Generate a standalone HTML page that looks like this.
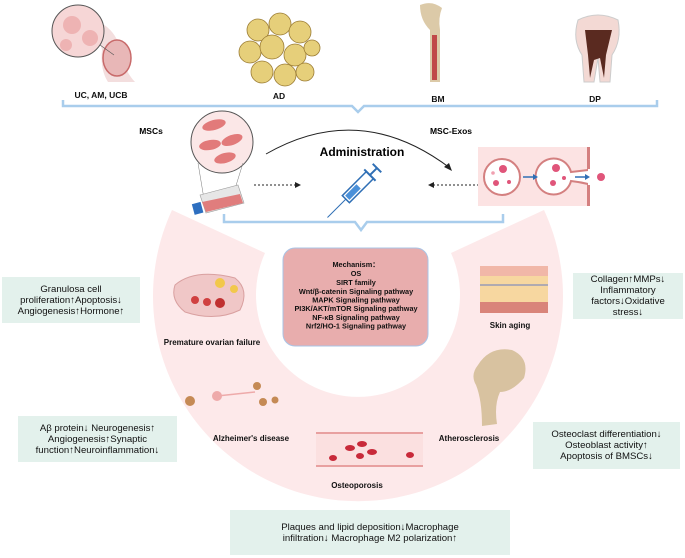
<!DOCTYPE html>
<html><head><meta charset="utf-8"><style>
html,body{margin:0;padding:0;background:#fff;}
body{width:685px;height:558px;position:relative;overflow:hidden;font-family:"Liberation Sans",sans-serif;}
.g{position:absolute;background:#e3f1ec;color:#111;font-size:9.6px;line-height:11px;text-align:center;display:flex;align-items:center;justify-content:center;}
</style></head><body>
<svg width="685" height="558" style="position:absolute;left:0;top:0" font-family="Liberation Sans, sans-serif">
<path d="M544,210 A205,205 0 1 1 172,210 L265,253 A102,102 0 1 0 451,253 Z" fill="#fde9ea"/>
<path d="M63,100 L63,106 L352,106 L358,112 L364,106 L657,106 L657,100" fill="none" stroke="#a9cdec" stroke-width="2.5"/>
<path d="M224,214 L224,222 L355,222 L361,230 L367,222 L503,222 L503,214" fill="none" stroke="#a9cdec" stroke-width="2.5"/>
<path d="M95,20 Q120,30 122,60 Q128,75 135,82 L108,82 Q100,70 102,50 Z" fill="#f3dede"/>
<ellipse cx="117" cy="58" rx="14" ry="18" fill="#e8b7b7" stroke="#c86a6a" stroke-width="1.5"/>
<circle cx="78" cy="31" r="26" fill="#f6d6d6" stroke="#555" stroke-width="1"/>
<circle cx="72" cy="25" r="9" fill="#eeb3b3"/><circle cx="90" cy="38" r="8" fill="#eeb3b3"/><circle cx="66" cy="45" r="6" fill="#eeb3b3"/>
<line x1="100" y1="45" x2="114" y2="55" stroke="#555" stroke-width="0.6"/>
<g fill="#e6cf7a" stroke="#9c7d35" stroke-width="0.8">
<circle cx="258" cy="30" r="11"/><circle cx="280" cy="24" r="11"/><circle cx="300" cy="32" r="11"/><circle cx="250" cy="52" r="11"/>
<circle cx="272" cy="47" r="12"/><circle cx="295" cy="55" r="11"/><circle cx="312" cy="48" r="8"/><circle cx="262" cy="72" r="11"/>
<circle cx="285" cy="75" r="11"/><circle cx="305" cy="72" r="9"/></g>
<path d="M420,5 Q432,0 442,8 Q438,18 440,30 L440,82 L430,82 L430,30 Q420,20 420,5 Z" fill="#dccaa8"/>
<rect x="432" y="35" width="5" height="45" fill="#c04848"/>
<path d="M578,20 Q598,10 618,20 Q622,40 612,55 L610,82 L600,82 L598,58 L594,82 L584,82 L582,55 Q572,40 578,20 Z" fill="#f3d9d4" stroke="#ccc" stroke-width="1"/>
<path d="M585,30 L612,30 L606,55 L604,78 L600,58 L594,60 L590,78 L588,55 Z" fill="#5a2a20"/>
<g font-size="8.5" font-weight="bold" fill="#111" text-anchor="middle">
<text x="101" y="98">UC, AM, UCB</text><text x="279" y="99">AD</text><text x="438" y="102">BM</text><text x="595" y="102">DP</text>
</g>
<text x="151" y="134" font-size="8.5" font-weight="bold" text-anchor="middle">MSCs</text>
<text x="451" y="134" font-size="8.5" font-weight="bold" text-anchor="middle">MSC-Exos</text>
<text x="362" y="156" font-size="12" font-weight="bold" text-anchor="middle">Administration</text>
<circle cx="222" cy="142" r="31" fill="#fbe7e7" stroke="#555" stroke-width="1"/>
<g fill="#e27a7a"><ellipse cx="214" cy="125" rx="12" ry="5" transform="rotate(-15 214 125)"/><ellipse cx="232" cy="140" rx="11" ry="5" transform="rotate(-20 232 140)"/><ellipse cx="210" cy="145" rx="11" ry="5" transform="rotate(-10 210 145)"/><ellipse cx="225" cy="158" rx="11" ry="5" transform="rotate(-15 225 158)"/></g>
<line x1="198" y1="163" x2="205" y2="205" stroke="#777" stroke-width="0.5"/><line x1="243" y1="163" x2="230" y2="205" stroke="#777" stroke-width="0.5"/>
<path d="M200,195 L238,185 L244,203 L206,213 Z" fill="#e6e6e6" stroke="#999" stroke-width="0.6"/>
<path d="M202,202 L240,194 L243,203 L206,212 Z" fill="#e07d7d"/>
<rect x="193" y="203" width="9" height="11" fill="#2d6fc0" transform="rotate(-15 197 208)"/>
<path d="M266,154 Q360,100 450,168" fill="none" stroke="#222" stroke-width="1"/>
<path d="M452,171 L444,167 L449,163 Z" fill="#222"/>
<line x1="254" y1="185" x2="297" y2="185" stroke="#222" stroke-width="1" stroke-dasharray="2,2"/>
<path d="M301,185 L295,182 L295,188 Z" fill="#222"/>
<line x1="479" y1="185" x2="432" y2="185" stroke="#222" stroke-width="1" stroke-dasharray="2,2"/>
<path d="M428,185 L434,182 L434,188 Z" fill="#222"/>
<g transform="rotate(-45 360 185)">
<rect x="340" y="180" width="34" height="10" fill="#fff" stroke="#2f6fb5" stroke-width="1.5"/>
<rect x="342" y="182" width="16" height="6" fill="#4a90d9"/>
<line x1="374" y1="177" x2="374" y2="193" stroke="#2f6fb5" stroke-width="2"/>
<line x1="374" y1="185" x2="384" y2="185" stroke="#2f6fb5" stroke-width="2"/>
<line x1="384" y1="179" x2="384" y2="191" stroke="#2f6fb5" stroke-width="2"/>
<line x1="340" y1="185" x2="314" y2="185" stroke="#2f6fb5" stroke-width="1"/>
</g>
<rect x="478" y="147" width="112" height="59" fill="#fce3e3"/>
<circle cx="502" cy="177" r="18" fill="#fff" stroke="#d48080" stroke-width="2"/>
<circle cx="503" cy="169" r="4" fill="#e0557a"/><circle cx="496" cy="183" r="3" fill="#e0557a"/><circle cx="509" cy="182" r="2" fill="#e0557a"/><circle cx="493" cy="173" r="1.8" fill="#f0a0b0"/>
<path d="M588,147 L588,170 Q580,171 571,172 A18,18 0 1 0 571,181 Q580,182 588,184 L588,206" fill="#fff" stroke="#d48080" stroke-width="2"/>
<rect x="588" y="147" width="3" height="59" fill="#fff"/>
<line x1="589" y1="147" x2="589" y2="169" stroke="#d48080" stroke-width="2"/><line x1="589" y1="185" x2="589" y2="206" stroke="#d48080" stroke-width="2"/>
<circle cx="556" cy="168" r="4" fill="#e0557a"/><circle cx="553" cy="183" r="3" fill="#e0557a"/><circle cx="564" cy="178" r="2" fill="#e0557a"/>
<line x1="523" y1="177" x2="534" y2="177" stroke="#2f6fb5" stroke-width="1.5"/><path d="M538,177 L533,174 L533,180 Z" fill="#2f6fb5"/>
<line x1="575" y1="177" x2="586" y2="177" stroke="#2f6fb5" stroke-width="1.5"/><path d="M590,177 L585,174 L585,180 Z" fill="#2f6fb5"/>
<circle cx="601" cy="177" r="4" fill="#e0557a"/>
<rect x="283" y="248" width="145" height="98" rx="12" fill="#e8adad" stroke="#a9c4e6" stroke-width="1"/>
<g font-size="7.3" font-weight="bold" text-anchor="middle" fill="#111">
<text x="356" y="267">Mechanism：</text><text x="356" y="276">OS</text><text x="356" y="285">SIRT family</text>
<text x="356" y="294">Wnt/β-catenin Signaling pathway</text><text x="356" y="302.5">MAPK Signaling pathway</text>
<text x="356" y="311">PI3K/AKT/mTOR Signaling pathway</text><text x="356" y="320">NF-κB Signaling pathway</text>
<text x="356" y="328.5">Nrf2/HO-1 Signaling pathway</text></g>
<path d="M175,285 Q195,268 235,278 Q250,290 240,310 Q215,322 185,312 Q170,300 175,285 Z" fill="#f0c7c7" stroke="#d9a0a0"/>
<circle cx="195" cy="300" r="4" fill="#d04040"/><circle cx="207" cy="302" r="4" fill="#d04040"/><circle cx="220" cy="303" r="5" fill="#c03030"/>
<circle cx="220" cy="283" r="5" fill="#f2c84b"/><circle cx="234" cy="289" r="4" fill="#f2c84b"/>
<rect x="480" y="266" width="68" height="47" fill="#f7d7a0"/><rect x="480" y="266" width="68" height="10" fill="#f1b7a8"/><rect x="480" y="302" width="68" height="11" fill="#d9847a"/>
<line x1="480" y1="285" x2="548" y2="285" stroke="#6a7ec0" stroke-width="1"/>
<path d="M478,365 Q490,346 512,350 Q530,358 524,378 Q512,392 500,392 Q494,405 497,424 L482,426 Q482,400 476,385 Q470,375 478,365 Z" fill="#d8c2a0"/>
<circle cx="217" cy="396" r="5" fill="#eeaaaa"/><line x1="217" y1="396" x2="255" y2="392" stroke="#eeaaaa" stroke-width="1.5"/>
<circle cx="190" cy="401" r="5" fill="#c58a55"/><circle cx="257" cy="386" r="4" fill="#c58a55"/><circle cx="263" cy="402" r="4" fill="#c58a55"/><circle cx="275" cy="400" r="3.5" fill="#c58a55"/>
<rect x="316" y="433" width="107" height="33" fill="#fbe0e0"/><line x1="316" y1="433" x2="423" y2="433" stroke="#e8a0a0" stroke-width="2"/><line x1="316" y1="466" x2="423" y2="466" stroke="#e8a0a0" stroke-width="2"/>
<g fill="#c82a3a"><ellipse cx="350" cy="448" rx="5" ry="3"/><ellipse cx="362" cy="444" rx="5" ry="3"/><ellipse cx="372" cy="452" rx="5" ry="3"/><ellipse cx="360" cy="456" rx="4" ry="3"/><ellipse cx="333" cy="458" rx="4" ry="3"/><ellipse cx="410" cy="455" rx="4" ry="3"/></g>
<g font-size="8" font-weight="bold" text-anchor="middle" fill="#111">
<text x="212" y="345">Premature ovarian failure</text><text x="510" y="328">Skin aging</text>
<text x="251" y="441">Alzheimer's disease</text><text x="469" y="441">Atherosclerosis</text><text x="357" y="488">Osteoporosis</text></g>
</svg>
<div class="g" style="left:2px;top:277px;width:138px;height:46px;">Granulosa cell<br>proliferation↑Apoptosis↓<br>Angiogenesis↑Hormone↑</div>
<div class="g" style="left:18px;top:416px;width:159px;height:46px;">Aβ protein↓ Neurogenesis↑<br>Angiogenesis↑Synaptic<br>function↑Neuroinflammation↓</div>
<div class="g" style="left:573px;top:273px;width:110px;height:46px;">Collagen↑MMPs↓<br>Inflammatory<br>factors↓Oxidative<br>stress↓</div>
<div class="g" style="left:533px;top:422px;width:147px;height:47px;">Osteoclast differentiation↓<br>Osteoblast activity↑<br>Apoptosis of BMSCs↓</div>
<div class="g" style="left:230px;top:510px;width:280px;height:45px;">Plaques and lipid deposition↓Macrophage<br>infiltration↓ Macrophage M2 polarization↑</div>
</body></html>
